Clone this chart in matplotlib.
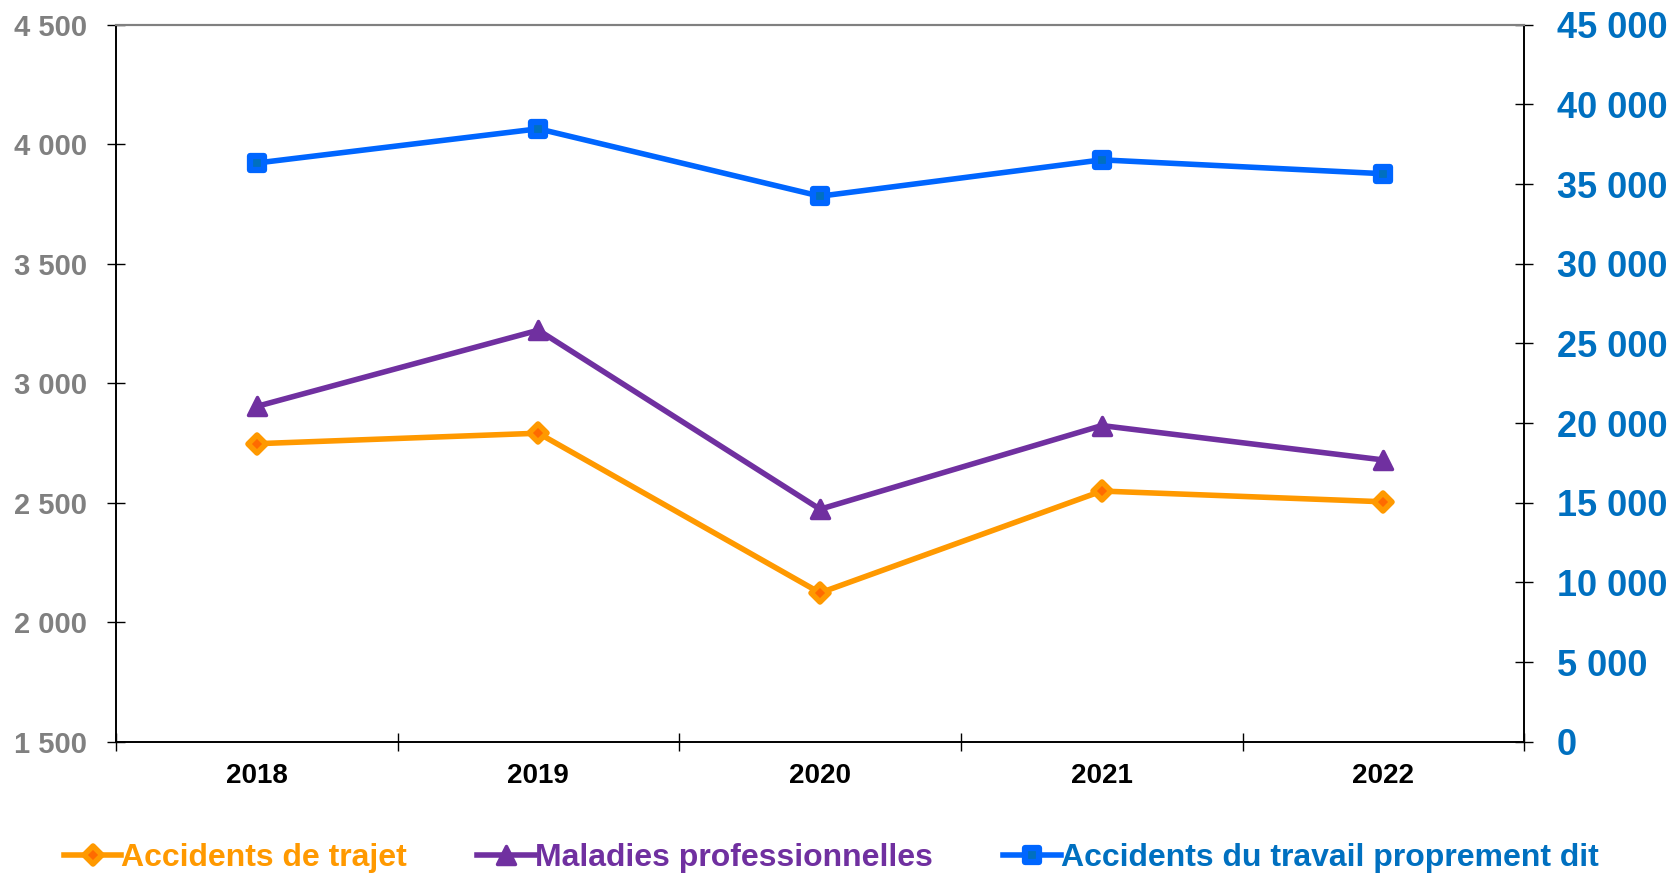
import numpy as np
import matplotlib.pyplot as plt
from matplotlib.markers import MarkerStyle
from matplotlib.ticker import FuncFormatter, MultipleLocator

# data
years = ["2018", "2019", "2020", "2021", "2022"]
trajet = [2747, 2791, 2123, 2549, 2504]          # left axis
maladies = [2903, 3222, 2473, 2823, 2679]        # left axis
travail = [36320, 38470, 34240, 36520, 35650]    # right axis

labels = ["Accidents de trajet", "Maladies professionnelles",
          "Accidents du travail proprement dit"]

ORANGE = "#FF9900"
PURPLE = "#7030A0"
BLUE = "#0066FF"
DARKBLUE = "#0070C0"

plt.rcParams['font.family'] = ['Liberation Sans', 'DejaVu Sans']
plt.rcParams['font.weight'] = 'bold'

fig = plt.figure(figsize=(16.81, 8.74), dpi=100)
ax = fig.add_axes([0.0689, 0.1513, 0.9068 - 0.0689, 0.9717 - 0.1513])
ax2 = ax.twinx()

x = np.arange(len(years))

l1, = ax.plot(x, trajet, color=ORANGE, lw=4, marker=MarkerStyle('D', joinstyle='round'),
              ms=9, mfc="#FF6A00", mec=ORANGE, mew=4, label=labels[0])
l2, = ax.plot(x, maladies, color=PURPLE, lw=4, marker=MarkerStyle('^', joinstyle='round'),
              ms=13, mfc=PURPLE, mec=PURPLE, mew=2.5, label=labels[1])
l3, = ax2.plot(x, travail, color=BLUE, lw=4, marker=MarkerStyle('s', joinstyle='round'),
               ms=9.5, mfc=DARKBLUE, mec=BLUE, mew=4.5, label=labels[2])

def fmt(v, pos):
    return f"{int(round(v)):,}".replace(",", " ")

ax.set_xlim(-0.5, len(years) - 0.5)
ax.set_ylim(1500, 4500)
ax.yaxis.set_major_locator(MultipleLocator(500))
ax.yaxis.set_major_formatter(FuncFormatter(fmt))
ax2.set_ylim(0, 45000)
ax2.yaxis.set_major_locator(MultipleLocator(5000))
ax2.yaxis.set_major_formatter(FuncFormatter(fmt))

# ticks between categories, labels at centres
ax.set_xticks(np.arange(-0.5, len(years), 1.0))
ax.set_xticklabels([])
ax.set_xticks(x, minor=True)
ax.set_xticklabels(years, minor=True)
ax.tick_params(axis='x', which='minor', length=0, pad=15, labelsize=20,
               labelcolor='black')
ax.tick_params(axis='x', which='major', direction='inout', length=13, width=1)

ax.tick_params(axis='y', direction='inout', length=13, width=1, pad=14,
               labelsize=21, labelcolor='#808080')
ax2.tick_params(axis='y', direction='inout', length=13, width=1, pad=17,
                labelsize=26, labelcolor=DARKBLUE)

for a in (ax, ax2):
    for s in ('left', 'right', 'bottom'):
        a.spines[s].set_color('black')
        a.spines[s].set_linewidth(1.2)
    a.spines['top'].set_color('#808080')
    a.spines['top'].set_linewidth(1.5)

for lab in ax.get_yticklabels() + ax2.get_yticklabels() + ax.get_xticklabels(minor=True):
    lab.set_fontweight('bold')

leg = fig.legend(handles=[l1, l2, l3], loc='center left',
                 bbox_to_anchor=(0.038, 0.018), ncol=3, frameon=False,
                 fontsize=23, handlelength=1.8, handletextpad=0.0,
                 columnspacing=2.2, borderpad=0, borderaxespad=0)
for txt, c in zip(leg.get_texts(), [ORANGE, PURPLE, DARKBLUE]):
    txt.set_color(c)
    txt.set_fontweight('bold')

fig.savefig("out.png", dpi=100)
